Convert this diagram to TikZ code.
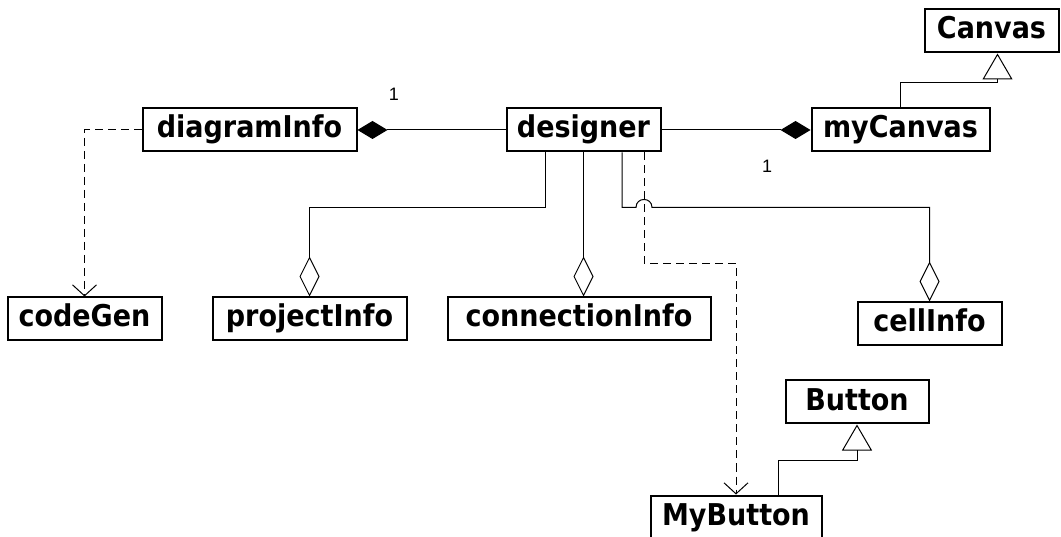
\documentclass[tikz,border=0pt]{standalone}
\usepackage{fontspec}
\setmainfont{DejaVu Sans Condensed}
\newfontfamily\multfont{Liberation Sans}
\usetikzlibrary{arrows.meta}
\begin{document}
\begin{tikzpicture}[x=1pt,y=-1pt,
  cls/.style={draw, line width=2pt, inner sep=0pt, minimum height=43pt,
    text height=22pt, text depth=6pt,
    font=\fontsize{30}{32}\selectfont\bfseries},
  link/.style={line width=1pt},
  dep/.style={link, dash pattern=on 8pt off 5pt,
    -{Straight Barb[length=11pt,width=24pt]}},
  compo/.style={link, -{Diamond[length=30pt,width=18pt]}},
  agg/.style={link, -{Diamond[open,length=40pt,width=20pt]}},
  gen/.style={link, -{Triangle[open,length=26pt,width=30pt]}},
  mult/.style={font=\multfont\fontsize{18}{20}\selectfont, inner sep=0pt}]
\useasboundingbox (0,0) rectangle (1061,537);

% classes
\node[cls, minimum width=134pt] (Canvas)      at (991.5,31)  {Canvas};
\node[cls, minimum width=178pt] (myCanvas)    at (900.5,130) {myCanvas};
\node[cls, minimum width=154pt] (designer)    at (583.5,130) {designer};
\node[cls, minimum width=214pt] (diagramInfo) at (249.5,130) {diagramInfo};
\node[cls, minimum width=154pt] (codeGen)     at (84.5,319)  {codeGen};
\node[cls, minimum width=194pt] (projectInfo) at (309.5,319) {projectInfo};
\node[cls, minimum width=263pt] (connectionInfo) at (579,319) {connectionInfo};
\node[cls, minimum width=144pt] (cellInfo)    at (929.5,324) {cellInfo};
\node[cls, minimum width=143pt] (Button)      at (857,402)   {Button};
\node[cls, minimum width=171pt] (MyButton)    at (736,517)   {MyButton};

% multiplicities
\node[mult] (m1) at (394,94)  {1};
\node[mult] (m2) at (767,166) {1};

% compositions
\draw[compo] (designer.west) -- (diagramInfo.east);
\draw[compo] (designer.east) -- (myCanvas.west);

% aggregations
\draw[agg] ([xshift=-38.5pt]designer.south) -- ++(0,55) -| (projectInfo.north);
\draw[agg] (designer.south) -- (designer.south |- connectionInfo.north);

% dependencies
\draw[dep] (diagramInfo.west) -| (codeGen.north);
\draw[dep] ([xshift=60.5pt]designer.south) -- ++(0,111) -| (MyButton.north);

% aggregation to cellInfo, hopping over the dependency line
\draw[agg] ([xshift=38.5pt]designer.south) -- ++(0,55) -- ++(14,0)
  .. controls +(0,-10.7) and +(0,-10.7) .. ++(16,0) -| (cellInfo.north);

% generalizations
\draw[gen] (myCanvas.north) -- ++(0,-25) -| ([xshift=6pt]Canvas.south);
\draw[gen] ([xshift=42pt]MyButton.north) -- ++(0,-34) -| (Button.south);
\end{tikzpicture}
\end{document}
